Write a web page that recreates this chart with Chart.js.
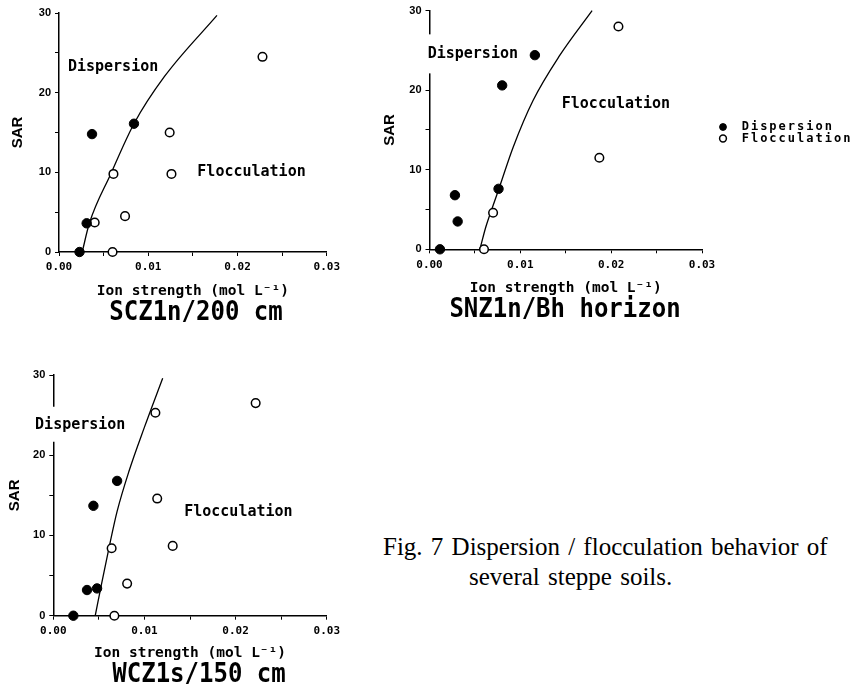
<!DOCTYPE html>
<html><head><meta charset="utf-8">
<script src="https://cdn.jsdelivr.net/npm/chart.js@4/dist/chart.umd.min.js"></script>
<style>
html,body{margin:0;padding:0;background:#fff}
body{width:855px;height:696px;position:relative;overflow:hidden}
canvas{position:absolute}
.ptitle{position:absolute;font-family:"DejaVu Sans Mono";font-weight:bold;font-size:24px;line-height:1;white-space:pre;transform:translate(-50%,-50%) scaleY(1.12);color:#000}
.cap{position:absolute;font-family:"Liberation Serif";font-size:25px;line-height:1;white-space:pre;word-spacing:2px;color:#000}
</style></head><body>
<canvas id="c1" width="345" height="300" style="left:0;top:0"></canvas>
<canvas id="c2" width="485" height="300" style="left:370px;top:0"></canvas>
<canvas id="c3" width="345" height="303" style="left:0;top:360px"></canvas>
<div class="ptitle" style="left:196px;top:311px">SCZ1n/200 cm</div>
<div class="ptitle" style="left:565px;top:308px">SNZ1n/Bh horizon</div>
<div class="ptitle" style="left:199px;top:673px">WCZ1s/150 cm</div>
<div class="cap" style="left:383px;top:534px">Fig. 7 Dispersion / flocculation behavior of</div>
<div class="cap" style="left:469px;top:564px">several steppe soils.</div>
<script>
// ---- tick labels ----
const xTickLabels = ['0.00', '0.01', '0.02', '0.03'];
const yTickLabels = ['0', '10', '20', '30'];
const seriesNames = ['Dispersion', 'Flocculation'];

// ---- SCZ1n/200 cm ----
const scz_disp_x = [0.0023, 0.0031, 0.0037, 0.0084];
const scz_disp_y = [0, 3.6, 14.8, 16.1];
const scz_floc_x = [0.0060, 0.0040, 0.0061, 0.0074, 0.0124, 0.0126, 0.0228];
const scz_floc_y = [0, 3.7, 9.8, 4.5, 15.0, 9.8, 24.5];
const scz_curve_x = [0.0026, 0.0034, 0.0058, 0.0084, 0.0118, 0.0177];
const scz_curve_y = [0, 3.6, 9.8, 16.1, 22.0, 29.7];

// ---- SNZ1n/Bh horizon ----
const snz_disp_x = [0.00115, 0.0028, 0.0031, 0.0076, 0.0080, 0.0116];
const snz_disp_y = [0, 6.8, 3.5, 7.6, 20.6, 24.4];
const snz_floc_x = [0.0060, 0.0070, 0.0187, 0.0208];
const snz_floc_y = [0, 4.6, 11.5, 28.0];
const snz_curve_x = [0.00555, 0.0062, 0.0070, 0.0077, 0.0092, 0.0114, 0.0143, 0.0179];
const snz_curve_y = [0, 2.8, 5.5, 7.8, 12.8, 18.7, 24.3, 30.0];

// ---- WCZ1s/150 cm ----
const wcz_disp_x = [0.0022, 0.0037, 0.0048, 0.0044, 0.0070];
const wcz_disp_y = [0, 3.2, 3.4, 13.7, 16.8];
const wcz_floc_x = [0.0067, 0.0081, 0.0064, 0.0131, 0.0114, 0.0112, 0.0222];
const wcz_floc_y = [0, 4.0, 8.4, 8.7, 14.6, 25.3, 26.5];
const wcz_curve_x = [0.0046, 0.0053, 0.0061, 0.0070, 0.0083, 0.0100, 0.0120];
const wcz_curve_y = [0, 4.0, 8.4, 13.0, 18.0, 23.5, 29.6];

const pts = (xs, ys) => xs.map((v, i) => ({x: v, y: ys[i]}));
const MONO = '"DejaVu Sans Mono"';

const regionLabels = {
  id: 'regionLabels',
  afterDraw(chart, args, opts) {
    const {ctx, scales: {x, y}} = chart;
    ctx.save();
    ctx.font = 'bold 15px ' + MONO;
    ctx.textBaseline = 'middle';
    ctx.textAlign = 'left';
    for (const l of (opts.items || [])) {
      const px = x.getPixelForValue(l.x), py = y.getPixelForValue(l.y);
      const w = ctx.measureText(l.text).width;
      if (l.mask) {
        ctx.fillStyle = '#fff';
        ctx.fillRect(px - l.mask[0], py - l.mask[1], w + l.mask[0] + 2, l.mask[1] + l.mask[2]);
      }
      ctx.fillStyle = '#000';
      ctx.fillText(l.text, px, py);
    }
    ctx.restore();
  }
};

const sideLegend = {
  id: 'sideLegend',
  afterDraw(chart, args, opts) {
    if (!opts.show) return;
    const {ctx, chartArea} = chart;
    ctx.save();
    ctx.font = 'bold 12px ' + MONO;
    ctx.letterSpacing = '2px';
    ctx.textBaseline = 'middle';
    ctx.textAlign = 'left';
    [0, 1].forEach((idx, i) => {
      const ds = chart.data.datasets[idx];
      const cx = chartArea.right + opts.dx, cy = chartArea.top + opts.dy + i * opts.gap;
      ctx.beginPath();
      ctx.arc(cx, cy, opts.r, 0, Math.PI * 2);
      ctx.fillStyle = ds.pointBackgroundColor;
      ctx.fill();
      ctx.lineWidth = ds.pointBorderWidth;
      ctx.strokeStyle = ds.pointBorderColor;
      ctx.stroke();
      ctx.fillStyle = '#000';
      ctx.fillText(ds.label, cx + opts.tx, cy);
    });
    ctx.restore();
  }
};

function makePanel(id, p, d) {
  const datasets = [
    {label: seriesNames[0], data: pts(d.dx, d.dy), pointRadius: 4.7, pointBackgroundColor: '#000',
     pointBorderColor: '#000', pointBorderWidth: 1, showLine: false, clip: false},
    {label: seriesNames[1], data: pts(d.fx, d.fy), pointRadius: 4.3, pointBackgroundColor: '#fff',
     pointBorderColor: '#000', pointBorderWidth: 1.5, showLine: false, clip: false},
    {label: 'boundary', data: pts(d.cx, d.cy), showLine: true, pointRadius: 0, borderColor: '#000',
     borderWidth: 1.3, cubicInterpolationMode: 'monotone', fill: false, clip: false}
  ];
  return new Chart(document.getElementById(id), {
    type: 'scatter',
    data: {datasets},
    plugins: [regionLabels, sideLegend],
    options: {
      responsive: false, animation: false, events: [],
      layout: {padding: {left: 0, top: p.top, right: p.right, bottom: 0}},
      plugins: {
        legend: {display: false}, tooltip: {enabled: false},
        regionLabels: {items: p.labels},
        sideLegend: p.legend || {show: false}
      },
      scales: {
        x: {
          type: 'linear', min: 0, max: 0.03,
          afterFit: s => { s.height = p.xh; },
          ticks: {stepSize: 0.005, autoSkip: false, maxRotation: 0, padding: 5, color: '#000',
                  font: {family: MONO, weight: 'bold', size: 11},
                  callback: (v, i) => (i % 2 === 0 ? xTickLabels[i / 2] : '')},
          grid: {drawOnChartArea: false, drawTicks: true, tickLength: 4, color: '#000', lineWidth: 1},
          border: {color: '#000', width: 1.5},
          title: {display: true, text: 'Ion strength (mol L⁻¹)', color: '#000',
                  font: {family: MONO, weight: 'bold', size: 14.5}, padding: {top: 0, bottom: p.xtb}}
        },
        y: {
          type: 'linear', min: 0, max: 30,
          afterFit: s => { s.width = p.yw; },
          ticks: {stepSize: 5, autoSkip: false, padding: 4, color: '#000',
                  font: {family: '"Liberation Sans"', weight: 'bold', size: 11},
                  callback: (v, i) => (i % 2 === 0 ? yTickLabels[i / 2] : '')},
          grid: {drawOnChartArea: false, drawTicks: true, tickLength: 4, color: '#000', lineWidth: 1},
          border: {color: '#000', width: 1.5},
          title: {display: true, text: 'SAR', color: '#000',
                  font: {family: '"Liberation Sans"', weight: 'bold', size: 15}, padding: {top: p.ytp, bottom: 0}}
        }
      }
    }
  });
}

makePanel('c1', {top: 13, right: 13, xh: 48, xtb: 0, yw: 59, ytp: 9,
  labels: [{text: 'Dispersion', x: 0.001, y: 23.2}, {text: 'Flocculation', x: 0.0155, y: 10.0}]},
  {dx: scz_disp_x, dy: scz_disp_y, fx: scz_floc_x, fy: scz_floc_y, cx: scz_curve_x, cy: scz_curve_y});

makePanel('c2', {top: 9.3, right: 153, xh: 50.7, xtb: 3.3, yw: 59.5, ytp: 11,
  labels: [{text: 'Dispersion', x: -0.0002, y: 24.5, mask: [4, 20, 19]}, {text: 'Flocculation', x: 0.01456, y: 18.3}],
  legend: {show: true, dx: 21, dy: 116.4, gap: 11.5, r: 3.4, tx: 18.7}},
  {dx: snz_disp_x, dy: snz_disp_y, fx: snz_floc_x, fy: snz_floc_y, cx: snz_curve_x, cy: snz_curve_y});

makePanel('c3', {top: 15, right: 15.5, xh: 47.3, xtb: 1.3, yw: 53.3, ytp: 6,
  labels: [{text: 'Dispersion', x: -0.002, y: 23.8, mask: [2, 18, 17]}, {text: 'Flocculation', x: 0.01436, y: 12.9}]},
  {dx: wcz_disp_x, dy: wcz_disp_y, fx: wcz_floc_x, fy: wcz_floc_y, cx: wcz_curve_x, cy: wcz_curve_y});
</script>
</body></html>
